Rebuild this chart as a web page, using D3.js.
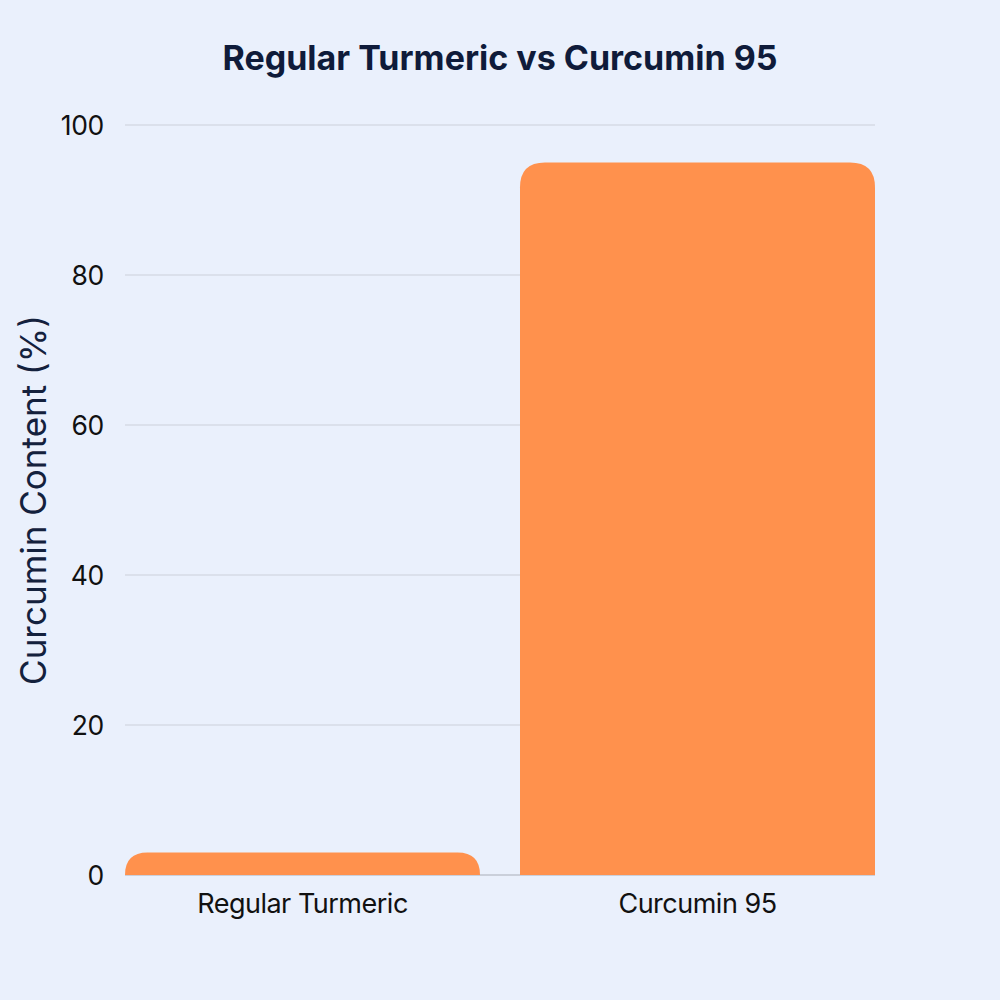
<!DOCTYPE html>
<html><head><meta charset="utf-8">
<script src="https://cdn.jsdelivr.net/npm/d3@7"></script>
<style>body{margin:0;background:#EAF0FC;}svg{display:block;}</style>
</head><body>
<script>
const categories = ["Regular Turmeric", "Curcumin 95"];
const values = [3, 95];
const yTicks = [0, 20, 40, 60, 80, 100];

const W = 1000, H = 1000;
const m = {left:125, right:125, top:125, bottom:125};
const svg = d3.select("body").append("svg").attr("width", W).attr("height", H);
svg.append("rect").attr("width", W).attr("height", H).attr("fill", "#EAF0FC");

const x = d3.scaleBand().domain(categories).range([m.left, W - m.right]).paddingInner(80/790).paddingOuter(0);
const y = d3.scaleLinear().domain([0, 100]).range([H - m.bottom, m.top]);

// gridlines
svg.append("g").selectAll("line").data(yTicks).join("line")
  .attr("x1", m.left).attr("x2", W - m.right)
  .attr("y1", d => y(d)).attr("y2", d => y(d))
  .attr("stroke", d => d === 0 ? "#A9AEB8" : "#CBD0DA").attr("stroke-width", 1.2);

// y tick labels
svg.append("g").selectAll("text").data(yTicks).join("text")
  .attr("x", 104).attr("y", d => y(d)).attr("dy", "0.36em")
  .attr("text-anchor", "end").attr("font-family", "Inter, 'Liberation Sans', sans-serif")
  .attr("font-size", 26.5).attr("fill", "#111").attr("letter-spacing", "-0.3").text(d => d);

// bars with rounded top
function barPath(x0, w, yTop, yBot, r) {
  r = Math.min(r, yBot - yTop, w / 2);
  return `M${x0},${yBot} L${x0},${yTop + r} Q${x0},${yTop} ${x0 + r},${yTop} L${x0 + w - r},${yTop} Q${x0 + w},${yTop} ${x0 + w},${yTop + r} L${x0 + w},${yBot} Z`;
}
svg.append("g").selectAll("path").data(categories).join("path")
  .attr("d", (c, i) => barPath(x(c), x.bandwidth(), y(values[i]), y(0), 25))
  .attr("fill", "#FF914D");

// x labels
svg.append("g").selectAll("text").data(categories).join("text")
  .attr("x", c => x(c) + x.bandwidth() / 2).attr("y", 913)
  .attr("text-anchor", "middle").attr("font-family", "Inter, 'Liberation Sans', sans-serif")
  .attr("font-size", 27).attr("fill", "#111").attr("letter-spacing", "-0.5").text(c => c);

// y label
svg.append("text").attr("transform", "translate(46,500) rotate(-90)")
  .attr("text-anchor", "middle").attr("font-family", "Inter, 'Liberation Sans', sans-serif")
  .attr("font-size", 35).attr("fill", "#14213D").text("Curcumin Content (%)");

// title
svg.append("text").attr("x", 500).attr("y", 70).attr("text-anchor", "middle")
  .attr("font-family", "Inter, 'Open Sans', sans-serif").attr("font-weight", "bold")
  .attr("font-size", 34).attr("fill", "#0F1B3A").text("Regular Turmeric vs Curcumin 95");
</script>
</body></html>
